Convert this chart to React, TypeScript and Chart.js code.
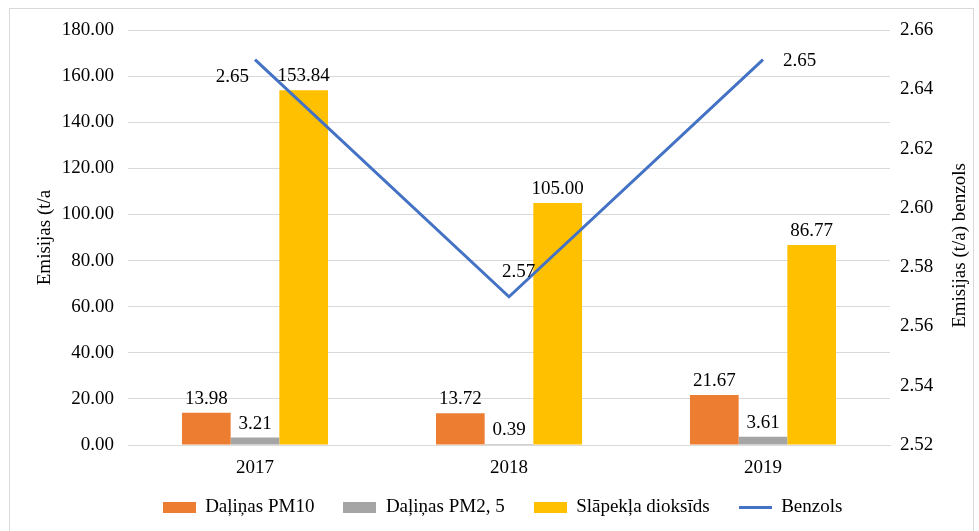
import React, { useEffect, useRef } from "react";
import { Chart, registerables } from "chart.js";

Chart.register(...registerables);

const years = ["2017", "2018", "2019"];
const pm10 = [13.98, 13.72, 21.67];
const pm25 = [3.21, 0.39, 3.61];
const no2 = [153.84, 105.0, 86.77];
const benzols = [2.65, 2.57, 2.65];

const seriesNames = ["Daļiņas PM10", "Daļiņas PM2, 5", "Slāpekļa dioksīds", "Benzols"];
const colors = ["#ED7D31", "#A5A5A5", "#FFC000", "#4472C4"];
const leftTitle = "Emisijas (t/a";
const rightTitle = "Emisijas (t/a) benzols";

const FONT = "'Liberation Serif', 'Times New Roman', serif";
const FS = 19;

function makeSwatch(color: string, isLine: boolean) {
  const c = document.createElement("canvas");
  c.width = 33;
  c.height = 11;
  const ctx = c.getContext("2d")!;
  if (isLine) {
    ctx.strokeStyle = color;
    ctx.lineWidth = 3;
    ctx.beginPath();
    ctx.moveTo(0, 5.5);
    ctx.lineTo(33, 5.5);
    ctx.stroke();
  } else {
    ctx.fillStyle = color;
    ctx.fillRect(0, 0, 33, 11);
  }
  return c;
}

const labelPlugin = {
  id: "valueLabels",
  afterDatasetsDraw(chart: any) {
    const ctx = chart.ctx;
    ctx.save();
    ctx.font = `${FS}px ${FONT}`;
    ctx.fillStyle = "#000";
    chart.data.datasets.forEach((ds: any, di: number) => {
      const meta = chart.getDatasetMeta(di);
      meta.data.forEach((el: any, i: number) => {
        const v = ds.data[i] as number;
        const txt = v.toFixed(2);
        if (ds.type === "line") {
          ctx.textBaseline = "middle";
          if (i === 0) {
            ctx.textAlign = "right";
            ctx.fillText(txt, el.x - 6, el.y + 17);
          } else if (i === 1) {
            ctx.textAlign = "left";
            ctx.fillText(txt, el.x - 7, el.y - 25);
          } else {
            ctx.textAlign = "left";
            ctx.fillText(txt, el.x + 20, el.y + 1);
          }
        } else {
          ctx.textAlign = "center";
          ctx.textBaseline = "middle";
          ctx.fillText(txt, el.x, el.y - 14);
        }
      });
    });
    // right axis title, reading bottom-to-top like the reference
    const s = chart.scales.y1;
    const cy = (chart.chartArea.top + chart.chartArea.bottom) / 2 + 8;
    ctx.translate(s.right - 11, cy);
    ctx.rotate(-Math.PI / 2);
    ctx.textAlign = "center";
    ctx.textBaseline = "middle";
    ctx.fillText(rightTitle, 0, 0);
    ctx.restore();
  },
};

export default function App() {
  const ref = useRef<HTMLCanvasElement>(null);
  useEffect(() => {
    document.body.style.margin = "0";
    const swatches = colors.map((c, i) => makeSwatch(c, i === 3));
    const chart = new Chart(ref.current!, {
      type: "bar",
      data: {
        labels: years,
        datasets: [
          { type: "bar", label: seriesNames[0], data: pm10, backgroundColor: colors[0], yAxisID: "y", order: 1, pointStyle: swatches[0] } as any,
          { type: "bar", label: seriesNames[1], data: pm25, backgroundColor: colors[1], yAxisID: "y", order: 1, pointStyle: swatches[1] } as any,
          { type: "bar", label: seriesNames[2], data: no2, backgroundColor: colors[2], yAxisID: "y", order: 1, pointStyle: swatches[2] } as any,
          {
            type: "line",
            label: seriesNames[3],
            data: benzols,
            borderColor: colors[3],
            backgroundColor: colors[3],
            borderWidth: 3,
            pointRadius: 0,
            tension: 0,
            yAxisID: "y1",
            order: 0,
            pointStyle: swatches[3],
          } as any,
        ],
      },
      options: {
        responsive: false,
        animation: false,
        datasets: { bar: { barPercentage: 1, categoryPercentage: 0.575 } } as any,
        layout: { padding: { top: 30, left: 34, right: 8, bottom: 4 } },
        plugins: {
          tooltip: { enabled: false },
          legend: {
            position: "bottom",
            labels: {
              usePointStyle: true,
              pointStyleWidth: 33,
              boxHeight: 11,
              padding: 10,
              color: "#000",
              font: { family: FONT, size: FS },
              generateLabels: (chart: any) =>
                chart.data.datasets.map((ds: any, i: number) => ({
                  text: i < chart.data.datasets.length - 1 ? ds.label + "    " : ds.label,
                  fillStyle: ds.backgroundColor,
                  strokeStyle: ds.borderColor || ds.backgroundColor,
                  lineWidth: 0,
                  pointStyle: ds.pointStyle,
                  hidden: !chart.isDatasetVisible(i),
                  datasetIndex: i,
                  fontColor: "#000",
                })),
            },
          },
        },
        scales: {
          x: {
            grid: { display: false, drawTicks: false },
            border: { color: "#d9d9d9" },
            ticks: { color: "#000", font: { family: FONT, size: FS }, padding: 12 },
            afterFit: (s: any) => { s.height = 43; },
          },
          y: {
            position: "left",
            min: 0,
            max: 180,
            ticks: { stepSize: 20, color: "#000", font: { family: FONT, size: FS }, padding: 14, callback: (v: any) => Number(v).toFixed(2) },
            grid: { color: "#d9d9d9", drawTicks: false },
            border: { display: false },
            title: { display: true, text: leftTitle, color: "#000", font: { family: FONT, size: FS }, padding: 0 },
            afterFit: (s: any) => { s.width = 94; },
          },
          y1: {
            position: "right",
            min: 2.52,
            max: 2.66,
            ticks: { stepSize: 0.02, color: "#000", font: { family: FONT, size: FS }, padding: 10, callback: (v: any) => Number(v).toFixed(2) },
            grid: { display: false, drawTicks: false },
            border: { display: false },
            afterFit: (s: any) => { s.width = 81; },
          },
        },
      },
      plugins: [labelPlugin],
    });
    return () => chart.destroy();
  }, []);
  return (
    <div style={{ position: "relative", width: 979, height: 531, background: "#fff" }}>
      <div style={{ position: "absolute", left: 9, top: 8, width: 965, height: 530, border: "1px solid #d9d9d9", boxSizing: "border-box" }} />
      <canvas ref={ref} width={979} height={531} style={{ position: "absolute", left: 0, top: 0 }} />
    </div>
  );
}
